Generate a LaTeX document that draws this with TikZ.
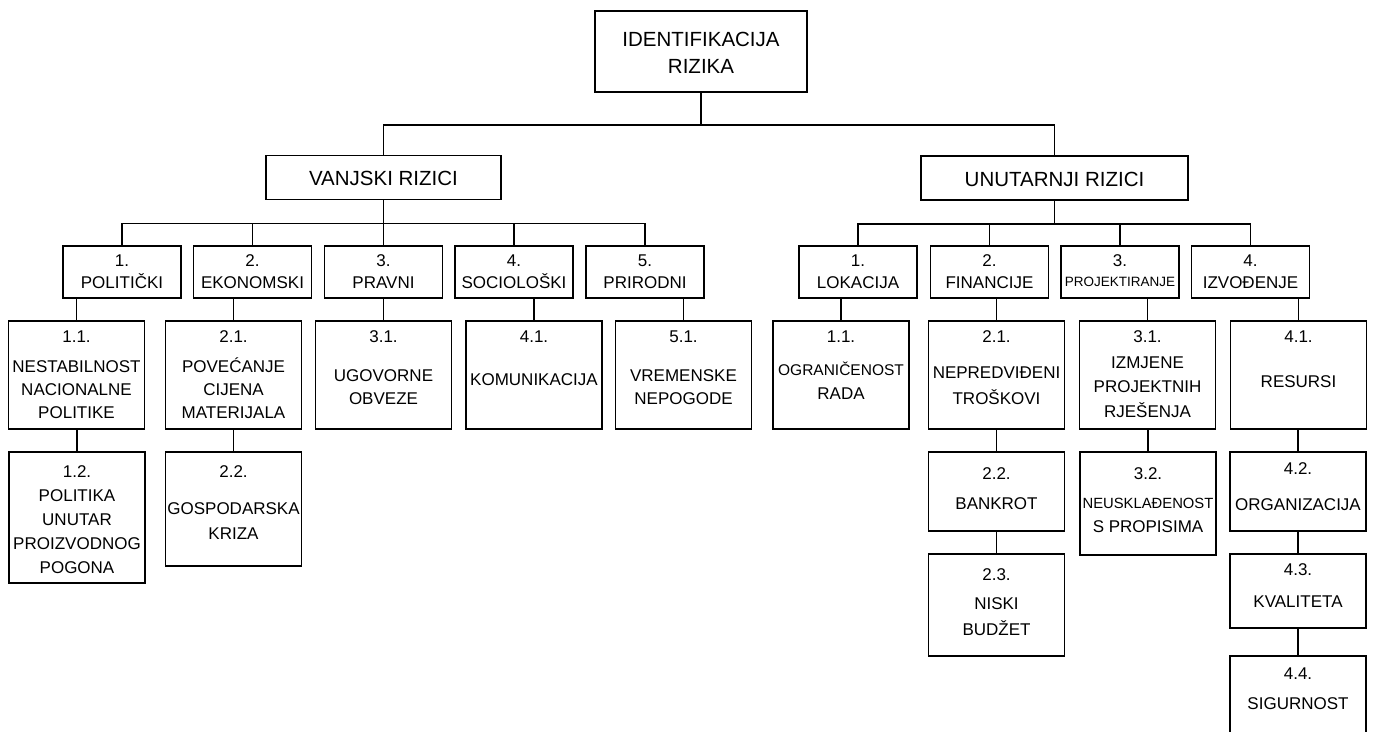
\documentclass[tikz,border=0pt]{standalone}
\usepackage{fontspec}
\setmainfont{Liberation Sans}

% lines of a box, first baseline raised by #1 from the node centre
\newcommand{\boxlines}[2]{\raisebox{#1}[0pt][0pt]{\begin{tabular}[t]{@{}c@{}}#2\end{tabular}}}

\begin{document}
\begin{tikzpicture}[x=1pt,y=-1pt]
        \tikzset{
        topbox/.style={draw, line width=1.6pt, inner sep=0pt, font=\fontsize{20.5}{27}\selectfont},
        grpbox/.style={topbox, minimum height=44pt},
        catbox/.style={draw, line width=1.6pt, inner sep=0pt, minimum width=118pt,
        minimum height=52pt, font=\fontsize{17}{23}\selectfont},
        subbox/.style={catbox, minimum width=136pt, minimum height=#1},
        link/.style={line width=1.6pt}
        }
        \useasboundingbox (0,0) rectangle (1373,731);

        \node[topbox, minimum width=212pt, minimum height=81pt] (rizik) at (701,51.5)
        {\boxlines{5.2pt}{IDENTIFIKACIJA\\RIZIKA}};
        \node[grpbox, minimum width=235pt] (vanj) at (383.5,177.5) {\boxlines{-7.8pt}{VANJSKI RIZICI}};
        \node[grpbox, minimum width=267pt] (unut) at (1054.5,178) {\boxlines{-8.8pt}{UNUTARNJI RIZICI}};

        % vanjski rizici
        \node[catbox] (pol) at (122,272) {\boxlines{5.4pt}{1.\\[-1pt]POLITIČKI}};
        \node[catbox] (eko) at (252.5,272) {\boxlines{5.4pt}{2.\\[-1pt]EKONOMSKI}};
        \node[catbox] (pra) at (383.5,272) {\boxlines{5.4pt}{3.\\[-1pt]PRAVNI}};
        \node[catbox] (soc) at (514,272) {\boxlines{5.4pt}{4.\\[-1pt]SOCIOLOŠKI}};
        \node[catbox] (pri) at (645,272) {\boxlines{5.4pt}{5.\\[-1pt]PRIRODNI}};

        \node[subbox=108pt] (v11) at (76.5,375) {\boxlines{32.5pt}{1.1.\\[7pt]NESTABILNOST\\NACIONALNE\\POLITIKE}};
        \node[subbox=108pt] (v21) at (233.5,375) {\boxlines{32.5pt}{2.1.\\[7pt]POVEĆANJE\\CIJENA\\MATERIJALA}};
        \node[subbox=108pt] (v31) at (383.5,375) {\boxlines{32.5pt}{3.1.\\[16pt]UGOVORNE\\OBVEZE}};
        \node[subbox=108pt] (v41) at (534,375) {\boxlines{32.5pt}{4.1.\\[20pt]KOMUNIKACIJA}};
        \node[subbox=108pt] (v51) at (683.5,375) {\boxlines{32.5pt}{5.1.\\[16pt]VREMENSKE\\NEPOGODE}};

        \node[subbox=131pt] (v12) at (77,517.5)
        {\boxlines{40.4pt}{1.2.\\[1pt]POLITIKA\\[1pt]UNUTAR\\[1pt]PROIZVODNOG\\[1pt]POGONA}};
        \node[subbox=114pt] (v22) at (233.5,509) {\boxlines{31.9pt}{2.2.\\[14pt]GOSPODARSKA\\[2pt]KRIZA}};

        % unutarnji rizici
        \node[catbox] (lok) at (858,272) {\boxlines{5.4pt}{1.\\[-1pt]LOKACIJA}};
        \node[catbox] (fin) at (989.5,272) {\boxlines{5.4pt}{2.\\[-1pt]FINANCIJE}};
        \node[catbox] (proj) at (1120,272)
        {\boxlines{5.4pt}{3.\\[-3pt]{\fontsize{13.5}{23}\selectfont PROJEKTIRANJE}}};
        \node[catbox] (izv) at (1250.5,272) {\boxlines{5.4pt}{4.\\[-1pt]IZVOĐENJE}};

        \node[subbox=108pt] (u11) at (841,375)
        {\boxlines{32.5pt}{1.1.\\[10pt]{\fontsize{15.5}{23}\selectfont OGRANIČENOST}\\[1pt]RADA}};
        \node[subbox=108pt] (u21) at (996.5,375) {\boxlines{32.5pt}{2.1.\\[13pt]NEPREDVIĐENI\\[3pt]TROŠKOVI}};
        \node[subbox=108pt] (u31) at (1147.5,375)
        {\boxlines{32.5pt}{3.1.\\[3pt]IZMJENE\\[1pt]PROJEKTNIH\\[2pt]RJEŠENJA}};
        \node[subbox=108pt] (u41) at (1298.5,375) {\boxlines{32.5pt}{4.1.\\[22pt]RESURSI}};

        \node[subbox=79pt] (u22) at (996.5,491.5) {\boxlines{12.4pt}{2.2.\\[7pt]BANKROT}};
        \node[subbox=102pt] (u23) at (996.5,605) {\boxlines{24.9pt}{2.3.\\[6pt]NISKI\\[3pt]BUDŽET}};
        \node[subbox=103pt] (u32) at (1148,503.5)
        {\boxlines{24.4pt}{3.2.\\[6pt]{\fontsize{14.8}{23}\selectfont NEUSKLAĐENOST}\\[1pt]S PROPISIMA}};
        \node[subbox=79pt] (u42) at (1298,491.5) {\boxlines{17.4pt}{4.2.\\[13pt]ORGANIZACIJA}};
        \node[subbox=74pt] (u43) at (1298,591) {\boxlines{15.9pt}{4.3.\\[9pt]KVALITETA}};
        \node[subbox=104pt] (u44) at (1298,708) {\boxlines{28.9pt}{4.4.\\[7pt]SIGURNOST}};

        % connectors
        \draw[link] (rizik.south) -- ++(0,32) -| (vanj.north);
        \draw[link] (rizik.south) -- ++(0,32) -| (unut.north);
        \foreach \n in {pol,eko,pra,soc,pri}
          \draw[link] (vanj.south) -- ++(0,23) -| (\n.north);
        \foreach \n in {lok,fin,proj,izv}
          \draw[link] (unut.south) -- ++(0,23) -| (\n.north);
        \foreach \a/\b in {pol/v11,eko/v21,pra/v31,soc/v41,pri/v51,v11/v12,v21/v22,
          lok/u11,fin/u21,proj/u31,izv/u41,u21/u22,u22/u23,u31/u32,u41/u42,u42/u43,u43/u44}
          \draw[link] (\b.north) -- (\b.north |- \a.south);
\end{tikzpicture}
\end{document}
